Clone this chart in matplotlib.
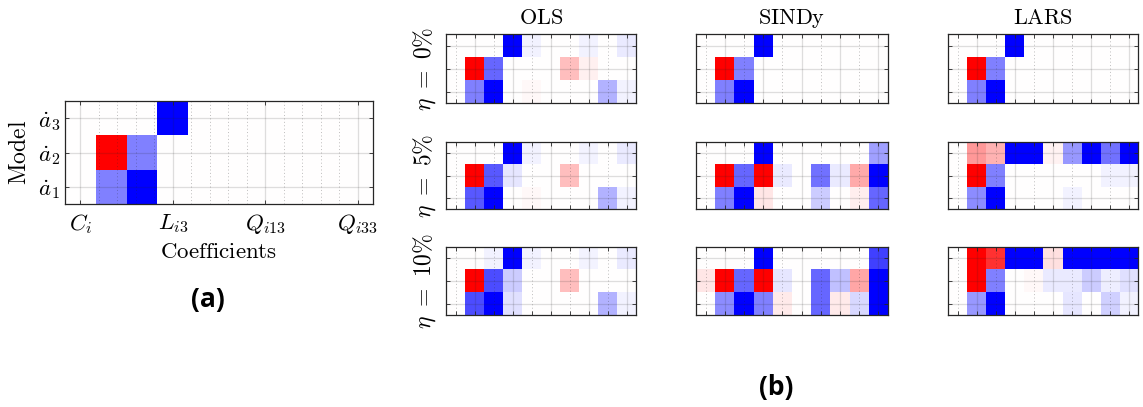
import numpy as np
import matplotlib
matplotlib.use('Agg')
import matplotlib.pyplot as plt
from matplotlib.colors import LinearSegmentedColormap
from matplotlib.ticker import FixedLocator, MultipleLocator

plt.rcParams['mathtext.fontset'] = 'cm'

# coefficient columns: C_i, L_i1..3, Q_i11, Q_i12, Q_i13, Q_i22, Q_i23, Q_i33
x_labels = [r'$C_i$', r'$L_{i3}$', r'$Q_{i13}$', r'$Q_{i33}$']
y_labels = [r'$\dot{a}_1$', r'$\dot{a}_2$', r'$\dot{a}_3$']
methods = ['OLS', 'SINDy', 'LARS']
noise = ['0', '5', '10']

# rows: a1, a2, a3 (bottom to top)
true_model = [
    [0, -0.5, -1, 0, 0, 0, 0, 0, 0, 0],
    [0, 1, -0.5, 0, 0, 0, 0, 0, 0, 0],
    [0, 0, 0, -1, 0, 0, 0, 0, 0, 0],
]

ols_0 = [
    [0, -0.5, -1, 0, 0.03, 0, 0, 0, -0.3, -0.05],
    [0, 1, -0.6, 0, 0, 0, 0.25, 0.06, 0, 0],
    [0, 0, 0, -1, -0.05, 0, 0, -0.05, 0, -0.08],
]
ols_5 = [
    [0, -0.65, -1, 0, 0.03, 0, 0, 0, -0.3, -0.05],
    [0, 1, -0.65, -0.1, 0, 0, 0.25, 0, 0, 0],
    [0, 0, 0, -1, -0.05, 0, 0, -0.04, 0, -0.08],
]
ols_10 = [
    [0, -0.7, -1, -0.12, 0, 0, 0, 0, -0.3, -0.05],
    [0, 1, -0.7, -0.2, 0, 0, 0.25, 0, 0, 0],
    [0, 0, -0.05, -1, -0.05, 0, 0, -0.04, 0, -0.08],
]

sindy_0 = true_model
sindy_5 = [
    [0, -0.5, -1, 0.1, 0, 0, -0.2, 0, 0.07, -0.6],
    [0, 1, -0.6, 1, -0.08, 0, -0.55, -0.08, 0.33, -1],
    [0, 0, 0, -1, 0, 0, 0, 0, 0, -0.37],
]
sindy_10 = [
    [0, -0.45, -1, -0.5, 0.08, 0, -0.6, 0.08, -0.15, -1],
    [0.1, 1, -0.6, 1, -0.1, 0, -0.6, -0.25, 0.35, -1],
    [0, 0, 0, -1, 0, 0, 0, 0, 0, -0.75],
]

lars_0 = true_model
lars_5 = [
    [0, -0.45, -1, 0, 0, 0, -0.05, 0, 0, 0],
    [0, 1, -0.5, 0, 0, 0, 0, 0, -0.05, -0.05],
    [0, 0.4, 0.3, -1, -1, 0.05, -0.4, -1, -0.55, -1],
]
lars_10 = [
    [0, -0.4, -1, 0, 0, 0, -0.1, 0, -0.18, -0.05],
    [0, 1, -0.5, 0, 0.03, -0.08, -0.08, -0.2, -0.07, -0.12],
    [0, 1, 0.8, -1, -1, 0.12, -1, -1, -1, -1],
]

results = [
    [ols_0, sindy_0, lars_0],
    [ols_5, sindy_5, lars_5],
    [ols_10, sindy_10, lars_10],
]

cmap = LinearSegmentedColormap.from_list('bwr2', ['#0000ff', '#ffffff', '#ff0000'])
W, H = 1143, 407


def px_axes(fig, x0, y0, x1, y1):
    return fig.add_axes([x0 / W, 1 - y1 / H, (x1 - x0) / W, (y1 - y0) / H])


def draw_map(ax, data):
    ax.imshow(np.array(data), cmap=cmap, vmin=-1, vmax=1, origin='lower',
              aspect='auto', extent=(-0.5, 9.5, -0.5, 2.5), interpolation='nearest')
    ax.set_xlim(-0.5, 9.5)
    ax.set_ylim(-0.5, 2.5)
    ax.set_axisbelow(False)
    ax.grid(True, which='major', color='#262626', alpha=0.15, lw=0.9, ls='-')
    ax.grid(True, which='minor', axis='x', color='#262626', alpha=0.3, lw=0.7,
            ls=(0, (1, 2.5)))
    for s in ax.spines.values():
        s.set_color('#262626')
        s.set_linewidth(0.9)
    ax.tick_params(which='both', direction='in', top=True, right=True,
                   length=3, width=0.6, color='#262626', labelsize=16.5)


fig = plt.figure(figsize=(W / 100, H / 100), dpi=100)

# panel (a)
ax = px_axes(fig, 65, 101, 373, 204)
draw_map(ax, true_model)
ax.xaxis.set_major_locator(FixedLocator([0, 3, 6, 9]))
ax.xaxis.set_minor_locator(MultipleLocator(0.6))
ax.tick_params(which='minor', length=0)
ax.tick_params(axis='x', pad=6)
ax.set_xticklabels(x_labels)
ax.set_yticks([0, 1, 2])
ax.set_yticklabels(y_labels)
ax.set_xlabel(r'$\mathrm{Coefficients}$', fontsize=16.5, labelpad=3)
ax.set_ylabel(r'$\mathrm{Model}$', fontsize=17, labelpad=5)
fig.text(208 / W, 1 - 300 / H, '(a)', fontsize=19, fontweight='bold',
         family='Open Sans', ha='center', va='center')

# panel (b)
col_x = [(446, 636), (696, 888), (948, 1138)]
row_y = [(34, 103), (142, 209), (247, 315)]
for i, (y0, y1) in enumerate(row_y):
    for j, (x0, x1) in enumerate(col_x):
        ax = px_axes(fig, x0, y0, x1, y1)
        draw_map(ax, results[i][j])
        ax.xaxis.set_major_locator(FixedLocator([1, 3, 5, 7, 9]))
        ax.xaxis.set_minor_locator(FixedLocator([0, 2, 4, 6, 8]))
        ax.set_yticks([0, 1, 2])
        ax.tick_params(which='both', labelbottom=False, labelleft=False)
        if i == 0:
            ax.set_title(r'$\mathrm{%s}$' % methods[j], fontsize=16, pad=7)
        if j == 0:
            ax.set_ylabel(r'$\eta\ =\ %s\%%$' % noise[i], fontsize=17, labelpad=6)

fig.text(776 / W, 1 - 387 / H, '(b)', fontsize=19, fontweight='bold',
         family='Open Sans', ha='center', va='center')

fig.savefig('out.png', dpi=100)
